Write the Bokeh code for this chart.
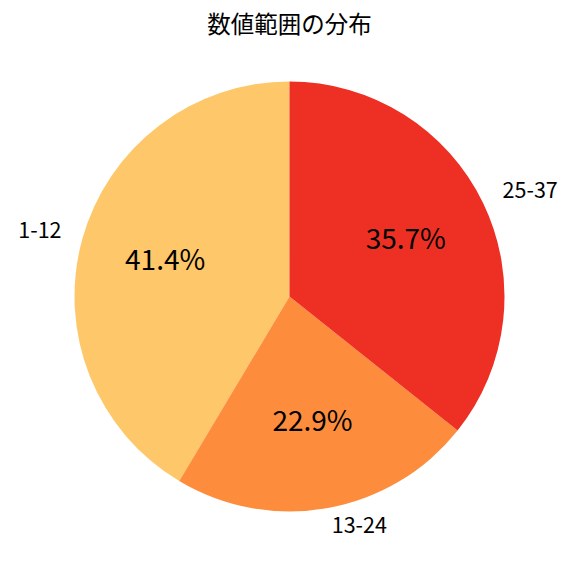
import math
from bokeh.plotting import figure
from bokeh.models import Range1d, ColumnDataSource
from bokeh.core.properties import value
from bokeh.embed import file_html
from bokeh.resources import INLINE

title_text = "数値範囲の分布"
categories = ["1-12", "13-24", "25-37"]
counts = [29, 16, 25]
colors = ["#FDC76A", "#FD8D3C", "#EE3024"]

W, H = 560, 560
cx, cy, r = 289.0, 264.0, 215.0
FONT = "Noto Sans CJK JP"
NUDGE = 4.0  # vertical text centring correction

p = figure(width=W, height=H, x_range=Range1d(0, W), y_range=Range1d(0, H),
           output_backend="svg", toolbar_location=None, min_border=0,
           outline_line_color=None)
p.axis.visible = False
p.grid.visible = False

total = sum(counts)
starts, ends = [], []
a = math.pi / 2
for c in counts:
    span = 2 * math.pi * c / total
    starts.append(a)
    ends.append(a + span)
    a += span

src = ColumnDataSource(dict(start=starts, end=ends, color=colors))
p.wedge(x=cx, y=cy, radius=r, start_angle="start", end_angle="end",
        fill_color="color", line_color=None, source=src)

lx, ly, lal, px, py, pct = [], [], [], [], [], []
for s, e, c in zip(starts, ends, counts):
    m = (s + e) / 2
    lx.append(cx + 1.1 * r * math.cos(m))
    ly.append(cy + 1.1 * r * math.sin(m) + NUDGE)
    lal.append("left" if math.cos(m) > 0 else "right")
    px.append(cx + 0.6 * r * math.cos(m))
    py.append(cy + 0.6 * r * math.sin(m) + NUDGE)
    pct.append(f"{100 * c / total:.1f}%")

lsrc = ColumnDataSource(dict(x=lx, y=ly, t=categories, al=lal))
p.text(x="x", y="y", text="t", text_align="al", text_baseline="middle",
       text_font=value(FONT), text_font_size="21.5px", text_color="#000000", source=lsrc)

psrc = ColumnDataSource(dict(x=px, y=py, t=pct))
p.text(x="x", y="y", text="t", text_align="center", text_baseline="middle",
       text_font=value(FONT), text_font_size="28px", text_color="#000000", source=psrc)

p.text(x=[cx], y=[H - 26 + NUDGE], text=[title_text], text_align="center",
       text_baseline="middle", text_font=value(FONT), text_font_size="23.5px",
       text_font_style="normal", text_color="#000000")

open("out.html", "w").write(file_html(p, INLINE))
